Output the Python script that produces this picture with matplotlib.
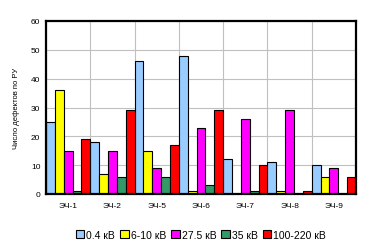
import matplotlib.pyplot as plt
import numpy as np

# Данные
categories = ['ЭЧ-1', 'ЭЧ-2', 'ЭЧ-5', 'ЭЧ-6', 'ЭЧ-7', 'ЭЧ-8', 'ЭЧ-9']
series_names = ['0.4 кВ', '6-10 кВ', '27.5 кВ', '35 кВ', '100-220 кВ']
v04 = [25, 18, 46, 48, 12, 11, 10]
v610 = [36, 7, 15, 1, 0, 1, 6]
v275 = [15, 15, 9, 23, 26, 29, 9]
v35 = [1, 6, 6, 3, 1, 0, 0]
v100 = [19, 29, 17, 29, 10, 1, 6]
colors = ['#99ccff', '#ffff00', '#ff00ff', '#339966', '#ff0000']

plt.rcParams['font.family'] = ['Liberation Sans', 'DejaVu Sans']

fig = plt.figure(figsize=(3.72, 2.53), dpi=100)
ax = fig.add_axes([46 / 372, 1 - 195 / 253, 310 / 372, 173 / 253])

x = np.arange(len(categories))
w = 0.2
for i, (vals, name) in enumerate(zip([v04, v610, v275, v35, v100], series_names)):
    ax.bar(x - 0.5 + w * (i + 0.5), vals, width=w, color=colors[i],
           edgecolor='black', linewidth=0.8, label=name, zorder=3)

ax.set_xlim(-0.5, len(categories) - 0.5)
ax.set_ylim(0, 60)
ax.set_yticks(range(0, 61, 10))
ax.set_xticks(x)
ax.set_xticklabels(categories)
ax.set_xticks(np.arange(len(categories) + 1) - 0.5, minor=True)
ax.grid(True, which='minor', axis='x', color='#c0c0c0', linewidth=0.8, zorder=0)
ax.grid(True, which='major', axis='y', color='#c0c0c0', linewidth=0.8, zorder=0)
ax.tick_params(which='both', length=0, labelsize=6, pad=6)
ax.tick_params(axis='y', pad=4)
for s in ax.spines.values():
    s.set_linewidth(1.6)
    s.set_zorder(4)

ax.set_ylabel('Число дефектов по РУ', fontsize=5.5, labelpad=8)

fig.legend(loc='center', bbox_to_anchor=(201 / 372, 1 - 236 / 253), ncol=5,
           frameon=False, fontsize=7.5, handlelength=0.8, handleheight=0.8,
           handletextpad=0.2, columnspacing=0.5, borderpad=0)

fig.savefig('out.png', dpi=100)
